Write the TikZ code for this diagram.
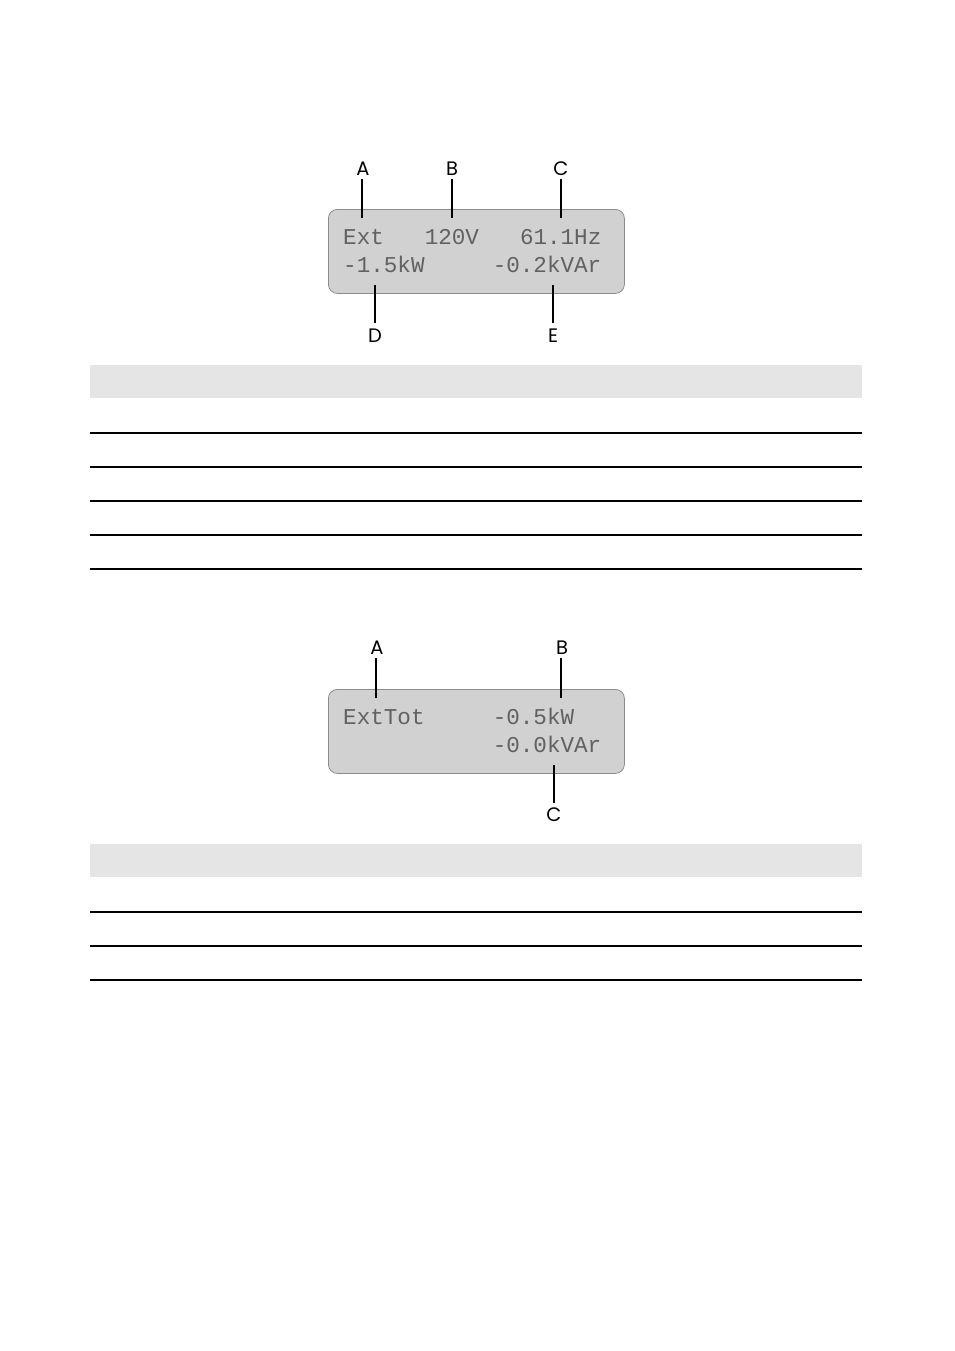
\documentclass[tikz,border=0pt]{standalone}
\usepackage{fontspec}
\setmainfont{Poppins}
\newfontfamily\lcdfont{Liberation Mono}
\begin{document}
\begin{tikzpicture}[x=1pt,y=-1pt,
  lcd/.style={draw=black!45, fill=black!18, rounded corners=9pt, line width=0.8pt},
  lcdtext/.style={anchor=base west, inner sep=0pt, text=black!62, font=\lcdfont\fontsize{22.6}{24}\selectfont},
  callout/.style={inner sep=0pt, font=\fontsize{19.5}{20}\selectfont},
  pointer/.style={line width=1.4pt},
  rowline/.style={line width=1.2pt},
  headband/.style={fill=black!10, draw=none}]
\useasboundingbox (0,0) rectangle (954,1351);
\fill[white] (0,0) rectangle (954,1351);

% ---------- display 1 ----------
\node[lcd, minimum width=296pt, minimum height=84pt, anchor=north west] (d1) at (328,209) {};
\node[lcdtext] (t1a) at (343,244) {Ext};
\node[lcdtext] (t1b) at (424.6,244) {120V};
\node[lcdtext] (t1c) at (519.8,244) {61.1Hz};
\node[lcdtext] (t1d) at (343,272) {-1.5kW};
\node[lcdtext] (t1e) at (492.6,272) {-0.2kVAr};

\node[callout] (lA) at (363,169) {A};
\node[callout] (lB) at (452,169) {B};
\node[callout] (lC) at (561,169) {C};
\node[callout] (lD) at (375,336) {D};
\node[callout] (lE) at (553,336) {E};
\coordinate (pA) at (362,218);
\coordinate (pB) at (452,218);
\coordinate (pC) at (561,218);
\coordinate (pD) at (375,285);
\coordinate (pE) at (553,285);
\draw[pointer] (pA) -- (362,179);
\draw[pointer] (pB) -- (452,179);
\draw[pointer] (pC) -- (561,179);
\draw[pointer] (pD) -- (375,323);
\draw[pointer] (pE) -- (553,323);

% ---------- table 1 ----------
\fill[headband] (90,365) rectangle (862,398);
\foreach \yy in {433,467,501,535,569} \draw[rowline] (90,\yy) -- (862,\yy);

% ---------- display 2 ----------
\node[lcd, minimum width=296pt, minimum height=84pt, anchor=north west] (d2) at (328,689) {};
\node[lcdtext] (t2a) at (343,724) {ExtTot};
\node[lcdtext] (t2b) at (492.6,724) {-0.5kW};
\node[lcdtext] (t2c) at (492.6,752) {-0.0kVAr};

\node[callout] (mA) at (377,648) {A};
\node[callout] (mB) at (562,648) {B};
\node[callout] (mC) at (554,815) {C};
\coordinate (qA) at (376,698);
\coordinate (qB) at (561,698);
\coordinate (qC) at (554,765);
\draw[pointer] (qA) -- (376,658);
\draw[pointer] (qB) -- (561,658);
\draw[pointer] (qC) -- (554,803);

% ---------- table 2 ----------
\fill[headband] (90,844) rectangle (862,877);
\foreach \yy in {912,946,980} \draw[rowline] (90,\yy) -- (862,\yy);
\end{tikzpicture}
\end{document}
